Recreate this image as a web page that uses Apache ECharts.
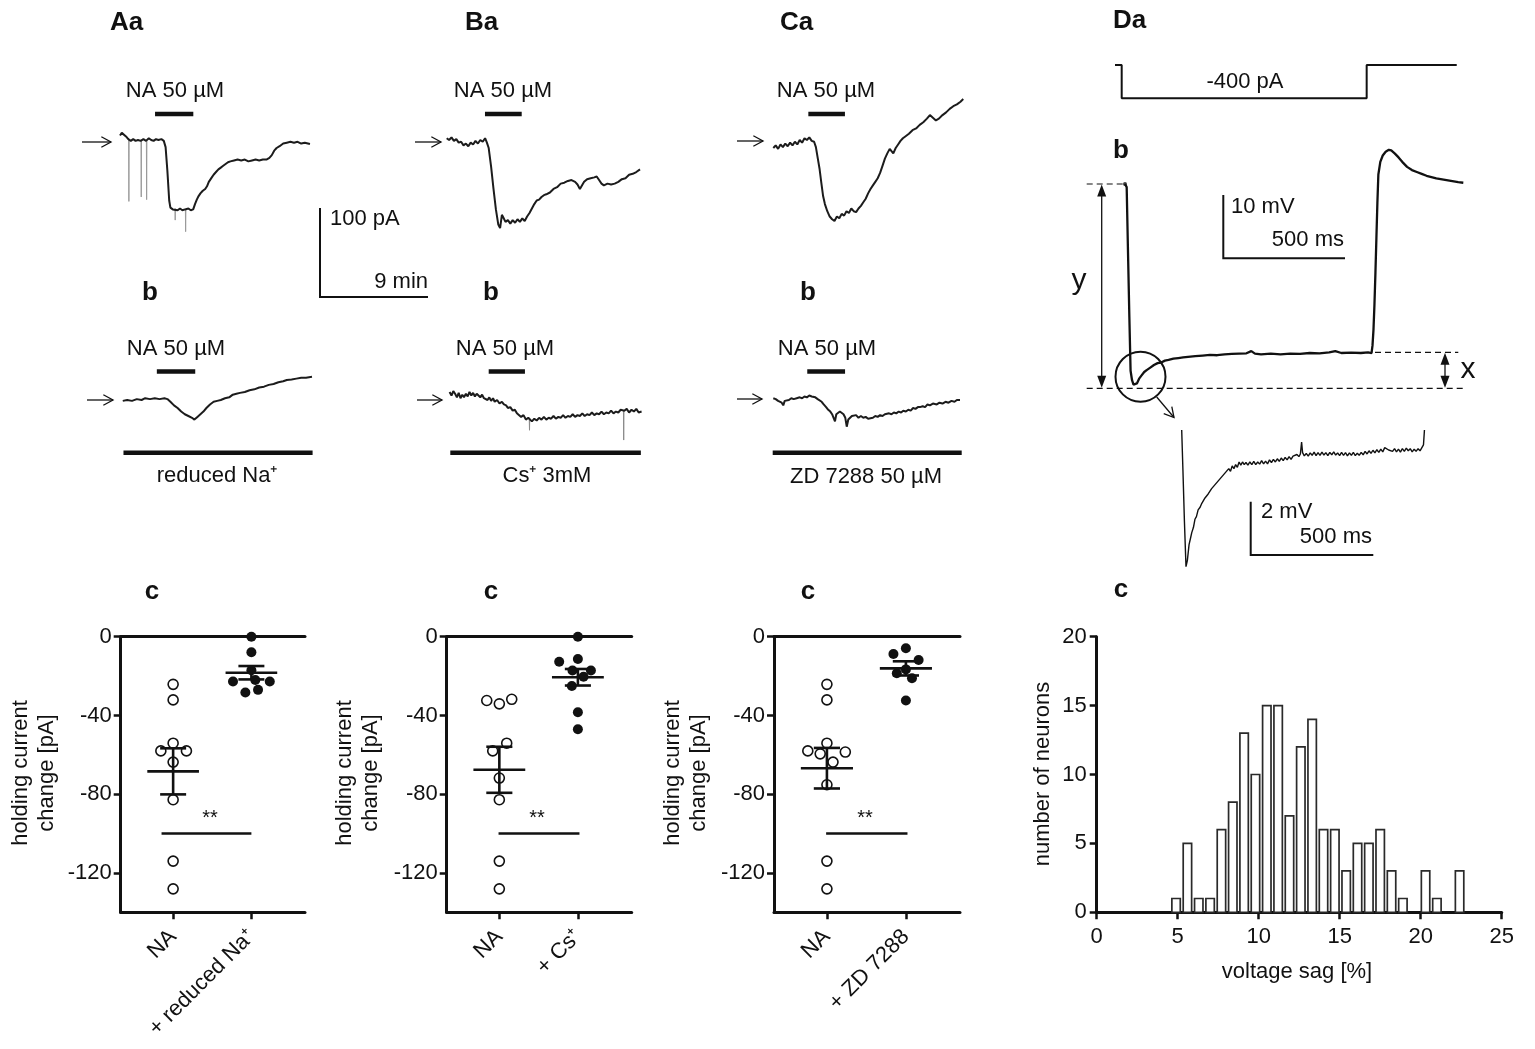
<!DOCTYPE html>
<html><head><meta charset="utf-8">
<script src="https://cdn.jsdelivr.net/npm/echarts@6/dist/echarts.min.js"></script>
<style>html,body{margin:0;padding:0;background:#fff}#c{width:1535px;height:1049px}</style>
</head><body><div id="c"></div>
<script>
// ---------------- DATA ----------------
// Row a: holding current traces (time [min], current change [pA])
const traceAa = [[0,5],[0.15,8],[0.3,9],[0.5,4],[0.69,1],[0.9,-1],[1.1,1],[1.3,-1],[1.5,0],[1.72,-1],[1.95,1],[2.17,-1],[2.4,2],[2.6,0],[2.8,-1],[3.0,1],[3.2,0],[3.45,1],[3.65,-1],[3.8,-8],[3.95,-35],[4.1,-68],[4.2,-76],[4.4,-78],[4.55,-76],[4.8,-79],[5.0,-77],[5.2,-79],[5.42,-78],[5.7,-77],[5.9,-79],[6.1,-78],[6.25,-72],[6.4,-67],[6.55,-63],[6.7,-60],[6.9,-57],[7.1,-55],[7.25,-52],[7.4,-47],[7.5,-45],[7.65,-42],[7.8,-39],[8.0,-36],[8.2,-33],[8.4,-31],[8.6,-29],[8.8,-27],[9.0,-25],[9.2,-24],[9.5,-23],[9.8,-22],[10.1,-23],[10.4,-22],[10.7,-24],[11.0,-23],[11.3,-22],[11.6,-23],[11.9,-22],[12.2,-22],[12.45,-20],[12.65,-17],[12.85,-12],[13.05,-9],[13.3,-7],[13.6,-4],[13.9,-3],[14.2,-2],[14.5,-3],[14.8,-2],[15.1,-4],[15.4,-3],[15.83,-4.5]];
// brief downward spikes in Aa (time, from, to)
const spikesAa = [[0.72,1,-69],[1.75,-1,-64],[2.2,-1,-67],[4.58,-77,-90],[5.45,-78,-103]];
const traceBa = [[0,2],[0.2,0],[0.4,3],[0.6,-1],[0.8,1],[1.0,-3],[1.2,-2],[1.4,-6],[1.6,-4],[1.8,-7],[2.0,-3],[2.2,-5],[2.4,-1],[2.6,-4],[2.8,0],[3.0,-2],[3.2,2],[3.35,-3],[3.5,-9],[3.7,-30],[3.9,-55],[4.1,-78],[4.3,-95],[4.45,-99],[4.6,-84],[4.75,-88],[4.9,-92],[5.1,-90],[5.3,-94],[5.5,-90],[5.7,-93],[5.9,-89],[6.1,-92],[6.3,-88],[6.5,-91],[6.7,-86],[6.9,-82],[7.1,-77],[7.3,-72],[7.5,-68],[7.7,-67],[7.9,-64],[8.1,-62],[8.3,-61],[8.6,-59],[8.9,-55],[9.2,-53],[9.5,-49],[9.8,-48],[10.1,-46],[10.4,-45],[10.7,-47],[10.9,-50],[11.1,-55],[11.25,-53],[11.45,-47],[11.7,-44],[12.0,-43],[12.3,-42],[12.5,-41],[12.7,-45],[12.9,-49],[13.1,-51],[13.4,-49],[13.7,-50],[14.0,-49],[14.3,-47],[14.6,-44],[14.9,-43],[15.2,-39],[15.5,-38],[15.8,-36],[16.11,-33]];
const traceCa = [[0,-9],[0.2,-6],[0.4,-10],[0.6,-5],[0.8,-8],[1.0,-4],[1.2,-7],[1.4,-3],[1.6,-6],[1.8,-2],[2.0,-5],[2.2,0],[2.4,-3],[2.6,2],[2.8,0],[3.0,3],[3.2,-1],[3.4,-2],[3.55,-8],[3.7,-20],[3.85,-32],[4.0,-48],[4.15,-63],[4.3,-72],[4.5,-80],[4.7,-86],[4.9,-89],[5.1,-91],[5.3,-86],[5.5,-88],[5.7,-83],[5.9,-85],[6.1,-80],[6.3,-82],[6.5,-77],[6.7,-80],[6.9,-81],[7.1,-77],[7.3,-74],[7.5,-70],[7.7,-66],[7.9,-60],[8.1,-55],[8.3,-51],[8.5,-47],[8.7,-43],[8.9,-37],[9.1,-29],[9.3,-21],[9.5,-15],[9.7,-10],[9.85,-12],[10.0,-15],[10.2,-9],[10.4,-5],[10.6,-1],[10.8,2],[11.0,4],[11.3,7],[11.6,11],[11.9,13],[12.2,17],[12.5,20],[12.8,24],[13.05,28],[13.3,25],[13.55,22],[13.8,24],[14.1,28],[14.4,31],[14.7,35],[15.0,38],[15.3,40],[15.6,43],[15.83,46]];
// Row b: same protocol in reduced Na+, Cs+, ZD 7288
const traceAb = [[0.23,-1],[0.6,0],[1.0,-1],[1.4,1],[1.8,0],[2.1,2],[2.5,1],[2.9,2],[3.3,1],[3.7,2],[3.95,1],[4.2,-2],[4.5,-6],[4.8,-9],[5.1,-13],[5.4,-16],[5.7,-18],[6.0,-20],[6.2,-22],[6.45,-19],[6.7,-16],[6.95,-13],[7.2,-9],[7.5,-5],[7.8,-2],[8.1,-1],[8.4,0],[8.75,2],[9.1,3],[9.4,6],[9.7,7],[10.0,8],[10.4,9],[10.8,11],[11.2,12],[11.6,14],[12.0,15],[12.4,17],[12.8,18],[13.2,20],[13.6,21],[13.9,22.5],[14.3,23],[14.7,24],[15.1,25],[15.5,25],[16.0,26]];
const traceBb = [[0.24,9],[0.4,5],[0.55,10],[0.7,7],[0.85,3],[1.0,8],[1.15,2],[1.3,6],[1.44,3],[1.6,7],[1.75,4],[1.9,9],[2.05,5],[2.2,8],[2.35,4],[2.5,7],[2.66,6],[2.8,3],[2.95,6],[3.1,2],[3.25,4],[3.4,0],[3.55,3],[3.7,-1],[3.86,2],[4.0,-2],[4.2,0],[4.4,-4],[4.6,-2],[4.77,-5],[4.95,-6],[5.1,-9],[5.3,-8],[5.5,-12],[5.68,-11],[5.85,-15],[6.0,-14],[6.2,-19],[6.4,-17],[6.6,-22],[6.8,-20],[6.95,-22],[7.1,-24],[7.3,-21],[7.5,-23],[7.7,-20],[7.9,-22],[8.1,-19],[8.3,-22],[8.5,-20],[8.7,-21],[8.9,-18],[9.1,-21],[9.3,-19],[9.5,-20],[9.7,-17],[9.9,-20],[10.1,-18],[10.3,-19],[10.5,-16],[10.7,-19],[10.9,-17],[11.1,-18],[11.3,-15],[11.5,-18],[11.7,-16],[11.9,-17],[12.1,-14],[12.3,-17],[12.5,-15],[12.7,-16],[12.9,-13],[13.1,-16],[13.3,-14],[13.5,-15],[13.7,-12],[13.9,-15],[14.1,-13],[14.3,-14],[14.5,-11],[14.65,-13],[14.8,-12],[15.0,-10],[15.2,-14],[15.4,-11],[15.6,-13],[15.8,-10],[16.0,-14],[16.24,-13]];
const spikesBb = [[6.88,-21,-34],[14.73,-12,-45]];
const traceCb = [[0,2],[0.2,1],[0.4,-1],[0.56,0],[0.7,-3],[0.83,-6],[0.95,-1],[1.1,1],[1.3,0],[1.5,2],[1.7,1],[1.95,2],[2.2,3],[2.4,2],[2.6,4],[2.8,3],[3.0,5],[3.2,4],[3.33,6],[3.5,3],[3.7,1],[3.85,-1],[4.03,-2],[4.2,-5],[4.4,-8],[4.58,-11],[4.75,-13],[4.9,-16],[5.05,-15],[5.14,-24],[5.25,-16],[5.4,-15],[5.55,-13],[5.7,-14],[5.85,-16],[6.0,-20],[6.12,-30],[6.25,-22],[6.4,-20],[6.55,-18],[6.7,-19],[6.9,-17],[7.1,-20],[7.3,-18],[7.5,-20],[7.7,-19],[7.9,-21],[8.06,-19],[8.3,-20],[8.5,-18],[8.7,-19],[8.9,-17],[9.1,-18],[9.3,-16],[9.45,-17],[9.65,-15],[9.85,-16],[10.05,-14],[10.25,-15],[10.45,-13],[10.65,-14],[10.83,-12],[11.05,-13],[11.25,-11],[11.45,-12],[11.65,-9],[11.85,-10],[12.05,-8],[12.22,-8],[12.45,-7],[12.65,-8],[12.85,-5],[13.05,-6],[13.3,-4],[13.62,-5],[13.85,-3],[14.1,-4],[14.35,-2],[14.6,-3],[14.85,-1],[15.1,-2],[15.3,0],[15.56,0]];
// NA application (start, end) [min]
const naRowA = [[2.92,6.11],[3.19,6.25],[2.92,5.97]];
const naRowB = [[3.07,6.27],[3.5,6.52],[2.83,5.98]];
// blocker application (start, end) [min]
const blockerRowB = [[0.29,16.05],[0.3,16.18],[-0.05,15.7]];
const blockerNames = ['reduced Na\u207A', 'Cs\u207A 3mM', 'ZD 7288 50 \u00B5M'];

// Da: current command (time [ms], pA)
const stepCmd = [[0,0],[27.5,0],[27.5,-400],[1034,-400],[1034,0],[1404,0]];
// Db: membrane potential (time [ms], mV relative to rest)
const voltTrace = [[41,0],[48,-0.5],[53,-10],[59,-21],[64,-29.5],[70,-31],[76,-31.7],[82,-32],[90,-31.5],[100,-30.7],[110,-30.2],[120,-29.7],[130,-29.4],[145,-29],[160,-28.6],[175,-28.3],[190,-28.2],[205,-27.9],[220,-27.8],[240,-27.6],[260,-27.5],[280,-27.4],[300,-27.3],[330,-27.2],[360,-27.1],[390,-27],[420,-27.05],[450,-26.9],[480,-26.85],[510,-26.8],[540,-26.75],[560,-26.4],[575,-26.8],[600,-26.9],[640,-26.8],[680,-26.9],[720,-26.8],[760,-26.85],[800,-26.7],[840,-26.75],[880,-26.6],[905,-26.4],[930,-26.7],[970,-26.65],[1010,-26.7],[1040,-26.6],[1054,-26.7],[1058,-25.5],[1062,-23],[1066,-19],[1070,-14],[1074,-8.5],[1078,-3],[1082,1.5],[1090,3.5],[1100,4.5],[1112,5.1],[1125,5.4],[1135,5.3],[1150,4.8],[1165,4.2],[1180,3.5],[1200,2.7],[1220,2.2],[1240,1.9],[1260,1.6],[1280,1.3],[1300,1.1],[1320,0.9],[1350,0.7],[1380,0.5],[1410,0.3],[1431,0.2]];
// Db inset: sag (time [ms], mV)
const sagInset = [[0,0],[5,-1.5],[11,-3.4],[17.5,-5.13],[23,-4.9],[30,-4.3],[35,-4.1],[41,-3.85],[48,-3.65],[54,-3.35],[60,-3.25],[67,-3.0],[75,-2.9],[82,-2.75],[88,-2.7],[95,-2.55],[102,-2.6],[108,-2.4],[115,-2.4],[122,-2.2],[129,-2.25],[136,-2.05],[143,-2.1],[150,-1.9],[157,-1.95],[164,-1.75],[171,-1.8],[178,-1.6],[185,-1.65],[192,-1.45],[199,-1.55],[206,-1.35],[213,-1.45],[220,-1.3],[227,-1.4],[234,-1.2],[241,-1.32],[248,-1.2],[255,-1.3],[262,-1.22],[270,-1.32],[278,-1.2],[286,-1.3],[294,-1.18],[302,-1.3],[310,-1.2],[318,-1.28],[326,-1.15],[334,-1.27],[342,-1.17],[350,-1.27],[358,-1.12],[366,-1.22],[374,-1.1],[382,-1.2],[390,-1.08],[398,-1.18],[406,-1.05],[414,-1.15],[422,-1.03],[430,-1.12],[438,-1.0],[446,-1.1],[454,-0.98],[462,-1.05],[470,-0.92],[478,-1.0],[484,-0.9],[489,-0.45],[493,-0.85],[500,-0.97],[508,-0.88],[516,-0.98],[524,-0.86],[532,-0.95],[540,-0.83],[548,-0.96],[556,-0.85],[564,-0.95],[572,-0.83],[580,-0.94],[588,-0.85],[596,-0.96],[604,-0.84],[612,-0.93],[620,-0.82],[628,-0.94],[636,-0.86],[644,-0.96],[652,-0.84],[660,-0.95],[668,-0.85],[676,-0.97],[684,-0.86],[692,-0.95],[700,-0.84],[708,-0.96],[716,-0.87],[724,-0.95],[732,-0.84],[740,-0.93],[748,-0.8],[756,-0.9],[764,-0.78],[772,-0.88],[780,-0.76],[788,-0.86],[796,-0.74],[804,-0.84],[812,-0.72],[820,-0.82],[828,-0.66],[836,-0.62],[844,-0.75],[852,-0.68],[860,-0.8],[868,-0.7],[876,-0.82],[884,-0.72],[892,-0.83],[900,-0.7],[908,-0.8],[916,-0.68],[924,-0.78],[932,-0.7],[940,-0.82],[948,-0.72],[956,-0.8],[964,-0.7],[972,-0.78],[980,-0.74],[986,-0.56],[990,0]];

// Row c: holding current change [pA]; [group position, value]
const ctrlA = [[1,-24.2],[1,-32.1],[1,-54.1],[0.843,-58],[1.17,-58],[1,-63.7],[1,-82.8],[1,-114],[1,-128.1]];
const drugA = [[2,0],[2,-7.9],[2,-17],[1.765,-22.8],[2.235,-22.8],[2.05,-22],[1.923,-28.3],[2.085,-27]];
const ctrlB = [[0.84,-32.4],[1,-34.1],[1.158,-31.8],[1.094,-54.1],[0.916,-58],[1,-71.8],[1,-82.8],[1,-114],[1,-128.1]];
const drugB = [[2,0],[1.762,-12.7],[2,-11.3],[1.931,-17.2],[2.166,-17.2],[2.072,-20.3],[1.923,-25],[2,-38.4],[2,-47]];
const ctrlC = [[1,-24.2],[1,-32.1],[1,-54.1],[0.758,-58],[1.233,-58.6],[0.915,-59.5],[1.077,-63.7],[1,-75.2],[1,-114],[1,-128.1]];
const drugC = [[1.842,-8.8],[2,-5.9],[2.161,-11.8],[2,-16.6],[1.885,-18.6],[2.077,-21.1],[2,-32.4]];
// mean ± SEM [group, mean, sem]
const meanSemA = [[1,-68.4,11.7],[2,-18.3,3.4]];
const meanSemB = [[1,-67.6,11.7],[2,-20.6,4.2]];
const meanSemC = [[1,-66.8,10.3],[2,-16.1,3.6]];
const sigSpanA = [0.852, 2.0], sigSpanB = [0.99, 2.02], sigSpanC = [0.99, 2.02];
const sigLevel = -100;
const catLabelsA = ['NA', '+ reduced Na\u207A'];
const catLabelsB = ['NA', '+ Cs\u207A'];
const catLabelsC = ['NA', '+ ZD 7288'];
const yTicksC = [0, -40, -80, -120];

// Dc: histogram of voltage sag
const sagBinCenters = [4.9,5.6,6.3,7.0,7.7,8.4,9.1,9.8,10.5,11.2,11.9,12.6,13.3,14.0,14.7,15.4,16.1,16.8,17.5,18.2,18.9,19.6,20.3,21.0,21.7,22.4];
const sagCounts    = [1,5,1,1,6,8,13,10,15,15,7,12,14,6,6,3,5,5,6,3,1,0,3,1,0,3];

// ---------------- DRAWING ----------------
const FONT = '"Liberation Sans", Arial, Helvetica, sans-serif';
const INK = '#111';
const grids = [], xAxes = [], yAxes = [], series = [], graphic = [];

function addFrame(ox, oy, sx, sy, x0, x1, y0, y1) {
  const g = grids.length;
  grids.push({left: ox + x0 * sx, top: oy - y1 * sy, width: (x1 - x0) * sx, height: (y1 - y0) * sy, containLabel: false});
  const xi = xAxes.length, yi = yAxes.length;
  xAxes.push({gridIndex: g, type: 'value', min: x0, max: x1, show: false});
  yAxes.push({gridIndex: g, type: 'value', min: y0, max: y1, show: false});
  return {x: xi, y: yi};
}
function lineSeries(ax, data, width, color, extra) {
  series.push(Object.assign({type: 'line', xAxisIndex: ax.x, yAxisIndex: ax.y, data: data, symbol: 'none', silent: true,
    connectNulls: false, animation: false, lineStyle: {color: color || INK, width: width}}, extra || {}));
}
function spikeSeries(ax, spikes, color) {
  const d = [];
  spikes.forEach(s => { d.push([s[0], s[1]], [s[0] + 0.02, s[2]], [s[0] + 0.04, s[1]], '-'); });
  lineSeries(ax, d, 1, color);
}

// current traces
const colX = [120, 446.7, 773.3];
const pxPerMin = 12, pxPerPA = 0.89;
const rowA = [traceAa, traceBa, traceCa], rowB = [traceAb, traceBb, traceCb];
for (let k = 0; k < 3; k++) {
  const ia = addFrame(colX[k], 140, pxPerMin, pxPerPA, -1, 17, -130, 100);
  if (k === 0) spikeSeries(ia, spikesAa, '#9a9a9a');
  lineSeries(ia, rowA[k], 2, '#1c1c1c');
  lineSeries(ia, naRowA[k].map(t => [t, 29.2]), 4.5, INK);
  const ib = addFrame(colX[k], 400, pxPerMin, pxPerPA, -1, 17, -130, 100);
  if (k === 1) spikeSeries(ib, spikesBb, '#8a8a8a');
  lineSeries(ib, rowB[k], 2, '#1c1c1c');
  lineSeries(ib, naRowB[k].map(t => [t, 32]), 4.5, INK);
  lineSeries(ib, blockerRowB[k].map(t => [t, -59.2]), 4.5, INK);
}
// Da/Db/inset
const aStep = addFrame(1115, 65, 0.2434, 0.0833, -10, 1420, -500, 60);
lineSeries(aStep, stepCmd, 2, INK);
const aVolt = addFrame(1115, 184, 0.2434, 6.33, 0, 1450, -35, 8);
lineSeries(aVolt, voltTrace, 2.3, INK);
series.push({type: 'scatter', xAxisIndex: aVolt.x, yAxisIndex: aVolt.y, data: [voltTrace[0]], symbolSize: 4, itemStyle: {color: INK}, silent: true, animation: false});
const aSag = addFrame(1181.7, 430, 0.2452, 26.65, -5, 1000, -5.6, 0.4);
lineSeries(aSag, sagInset, 1.4, INK);

// scatter panels
function addScatterPanel(left, width, ctrl, drug, ms, sig, cats) {
  const g = grids.length;
  grids.push({left: left, top: 636.7, width: width, height: 275.6, containLabel: false});
  const ax = {x: xAxes.length, y: yAxes.length};
  xAxes.push({gridIndex: g, type: 'value', min: 0.33, max: 2.685, position: 'bottom',
    axisLine: {show: true, onZero: false, lineStyle: {color: INK, width: 3}},
    axisTick: {show: true, customValues: [1, 2], length: 7, lineStyle: {color: INK, width: 2.5}},
    axisLabel: {show: true, customValues: [1, 2], rotate: 45, margin: 21, fontFamily: FONT, fontSize: 22, color: INK,
      formatter: v => cats[Math.round(v) - 1]},
    splitLine: {show: false}});
  yAxes.push({gridIndex: g, type: 'value', min: -140, max: 0,
    axisLine: {show: true, onZero: false, lineStyle: {color: INK, width: 3}},
    axisTick: {show: true, customValues: yTicksC, length: 7, lineStyle: {color: INK, width: 2.5}},
    axisLabel: {show: true, customValues: yTicksC, margin: 9, fontFamily: FONT, fontSize: 22, color: INK},
    splitLine: {show: false}});
  // top line at 0
  xAxes.push({gridIndex: g, type: 'value', min: 0.33, max: 2.685, position: 'top',
    axisLine: {show: true, onZero: false, lineStyle: {color: INK, width: 3}},
    axisTick: {show: false}, axisLabel: {show: false}, splitLine: {show: false}});
  series.push({type: 'scatter', xAxisIndex: ax.x, yAxisIndex: ax.y, data: ctrl, symbol: 'circle', symbolSize: 10,
    itemStyle: {color: '#fff', borderColor: INK, borderWidth: 1.6, opacity: 1}, silent: true, animation: false, z: 3});
  series.push({type: 'scatter', xAxisIndex: ax.x, yAxisIndex: ax.y, data: drug, symbol: 'circle', symbolSize: 10,
    itemStyle: {color: INK, opacity: 1}, silent: true, animation: false, z: 3});
  series.push({type: 'custom', xAxisIndex: ax.x, yAxisIndex: ax.y, data: ms, silent: true, animation: false, z: 4,
    renderItem: function (params, api) {
      const c = api.value(0), m = api.value(1), s = api.value(2);
      const L = (a, b) => ({type: 'line', shape: {x1: a[0], y1: a[1], x2: b[0], y2: b[1]}, style: {stroke: INK, lineWidth: 2.6}});
      return {type: 'group', children: [
        L(api.coord([c - 0.33, m]), api.coord([c + 0.33, m])),
        L(api.coord([c, m + s]), api.coord([c, m - s])),
        L(api.coord([c - 0.166, m + s]), api.coord([c + 0.166, m + s])),
        L(api.coord([c - 0.166, m - s]), api.coord([c + 0.166, m - s]))
      ]};
    }});
  lineSeries(ax, sig.map(x => [x, sigLevel]), 2.5, INK);
}
addScatterPanel(120.7, 184.3, ctrlA, drugA, meanSemA, sigSpanA, catLabelsA);
addScatterPanel(446.7, 185, ctrlB, drugB, meanSemB, sigSpanB, catLabelsB);
addScatterPanel(774, 186, ctrlC, drugC, meanSemC, sigSpanC, catLabelsC);

// histogram
const gH = grids.length;
grids.push({left: 1096.7, top: 636.7, width: 405, height: 275.6, containLabel: false});
const aH = {x: xAxes.length, y: yAxes.length};
xAxes.push({gridIndex: gH, type: 'value', min: 0, max: 25, interval: 5,
  axisLine: {show: true, onZero: false, lineStyle: {color: INK, width: 3}},
  axisTick: {show: true, length: 7, lineStyle: {color: INK, width: 2.5}},
  axisLabel: {show: true, margin: 14, fontFamily: FONT, fontSize: 22, color: INK},
  splitLine: {show: false}});
yAxes.push({gridIndex: gH, type: 'value', min: 0, max: 20, interval: 5,
  axisLine: {show: true, onZero: false, lineStyle: {color: INK, width: 3}},
  axisTick: {show: true, length: 7, lineStyle: {color: INK, width: 2.5}},
  axisLabel: {show: true, margin: 10, fontFamily: FONT, fontSize: 22, color: INK},
  splitLine: {show: false}});
series.push({type: 'custom', xAxisIndex: aH.x, yAxisIndex: aH.y, silent: true, animation: false, z: 1,
  data: sagBinCenters.map((c, j) => [c, sagCounts[j]]),
  renderItem: function (params, api) {
    const x = api.value(0), h = api.value(1);
    if (!h) return null;
    const p0 = api.coord([x - 0.26, h]), p1 = api.coord([x + 0.26, 0]);
    return {type: 'rect', shape: {x: p0[0], y: p0[1], width: p1[0] - p0[0], height: p1[1] - p0[1]},
      style: {fill: '#fff', stroke: '#2a2a2a', lineWidth: 1.7}};
  }});

// ---------------- ANNOTATIONS ----------------
function txt(t, x, y, opt) {
  opt = opt || {};
  graphic.push({type: 'text', x: x, y: y, rotation: opt.rot || 0, silent: true,
    style: {text: t, fill: INK, font: (opt.weight || 'normal') + ' ' + (opt.size || 22) + 'px ' + FONT,
      textAlign: opt.align || 'center', textVerticalAlign: 'middle', textBaseline: 'middle', lineHeight: opt.lh || 25}});
}
function seg(x1, y1, x2, y2, w, dash) {
  graphic.push({type: 'line', silent: true, shape: {x1: x1, y1: y1, x2: x2, y2: y2},
    style: {stroke: INK, lineWidth: w || 1.3, lineDash: dash || null}});
}
function poly(pts, w) {
  graphic.push({type: 'polyline', silent: true, shape: {points: pts}, style: {stroke: INK, lineWidth: w || 2, fill: null}});
}
function openArrow(x1, y1, x2, y2, head, w) {
  seg(x1, y1, x2, y2, w);
  const a = Math.atan2(y2 - y1, x2 - x1), h = head || 10, s = 0.5;
  poly([[x2 - h * Math.cos(a - s), y2 - h * Math.sin(a - s)], [x2, y2], [x2 - h * Math.cos(a + s), y2 - h * Math.sin(a + s)]], w);
}
function triHead(x, y, dir) { // dir = -1 pointing up, +1 pointing down
  graphic.push({type: 'polygon', silent: true, shape: {points: [[x, y], [x - 4.5, y - dir * 12], [x + 4.5, y - dir * 12]]}, style: {fill: INK}});
}

// panel letters
[['Aa', 110, 23], ['Ba', 465, 23], ['Ca', 780, 23], ['Da', 1113, 21]].forEach(p => txt(p[0], p[1], p[2], {align: 'left', weight: 'bold', size: 26}));
[[150, 293], [491, 293], [808, 293], [1121, 151]].forEach(p => txt('b', p[0], p[1], {weight: 'bold', size: 26}));
[[152, 592], [491, 592], [808, 592], [1121, 590]].forEach(p => txt('c', p[0], p[1], {weight: 'bold', size: 26}));

// NA labels and baseline arrows
[[175, 91], [503, 91], [826, 91], [176, 349], [505, 349], [827, 349]].forEach(p => txt('NA 50 \u00B5M', p[0], p[1]));
[[82, 111, 142], [415, 441, 142], [737, 763, 141], [87, 113, 400], [417, 442, 400], [737, 762, 399]].forEach(a => openArrow(a[0], a[2], a[1], a[2], 11, 1.3));
// blocker labels
[[217, 476], [547, 476], [866, 477]].forEach((p, k) => txt(blockerNames[k], p[0], p[1]));
// scale bar A
poly([[320, 208], [320, 297], [428, 297]], 2);
txt('100 pA', 330, 219, {align: 'left'});
txt('9 min', 428, 282, {align: 'right'});

// D annotations
txt('-400 pA', 1245, 82);
poly([[1223.3, 195], [1223.3, 258.3], [1345, 258.3]], 2);
txt('10 mV', 1231, 207, {align: 'left'});
txt('500 ms', 1344, 240, {align: 'right'});
seg(1086.7, 184, 1126, 184, 1.2, [6, 4]);
seg(1086.7, 388.3, 1463.3, 388.3, 1.2, [6, 4]);
seg(1375, 352.3, 1458.3, 352.3, 1.2, [6, 4]);
seg(1101.7, 190, 1101.7, 382, 1.3); triHead(1101.7, 184.5, -1); triHead(1101.7, 387.8, 1);
seg(1445, 358, 1445, 382, 1.3); triHead(1445, 352.8, -1); triHead(1445, 387.8, 1);
txt('y', 1079, 281, {size: 30});
txt('x', 1468, 370, {size: 30});
graphic.push({type: 'circle', silent: true, shape: {cx: 1140.5, cy: 376.7, r: 25}, style: {stroke: INK, lineWidth: 2, fill: null}});
openArrow(1156.7, 397, 1174, 417.5, 11, 1.3);
// inset scale bar
poly([[1250.7, 501.7], [1250.7, 555], [1373.3, 555]], 2);
txt('2 mV', 1261, 512, {align: 'left'});
txt('500 ms', 1372, 537, {align: 'right'});

// c-panel texts
[[34, 773], [357.5, 773], [686, 773]].forEach(p => txt('holding current\nchange [pA]', p[0], p[1], {rot: Math.PI / 2, lh: 26}));
[[210, 818], [537, 818], [865, 818]].forEach(p => txt('**', p[0], p[1], {size: 20}));
txt('number of neurons', 1043, 774, {rot: Math.PI / 2});
txt('voltage sag [%]', 1297, 972);

const chart = echarts.init(document.getElementById('c'), null, {renderer: 'canvas', width: 1535, height: 1049});
chart.setOption({
  backgroundColor: '#fff', animation: false,
  textStyle: {fontFamily: FONT},
  grid: grids, xAxis: xAxes, yAxis: yAxes, series: series, graphic: graphic
});
</script></body></html>
